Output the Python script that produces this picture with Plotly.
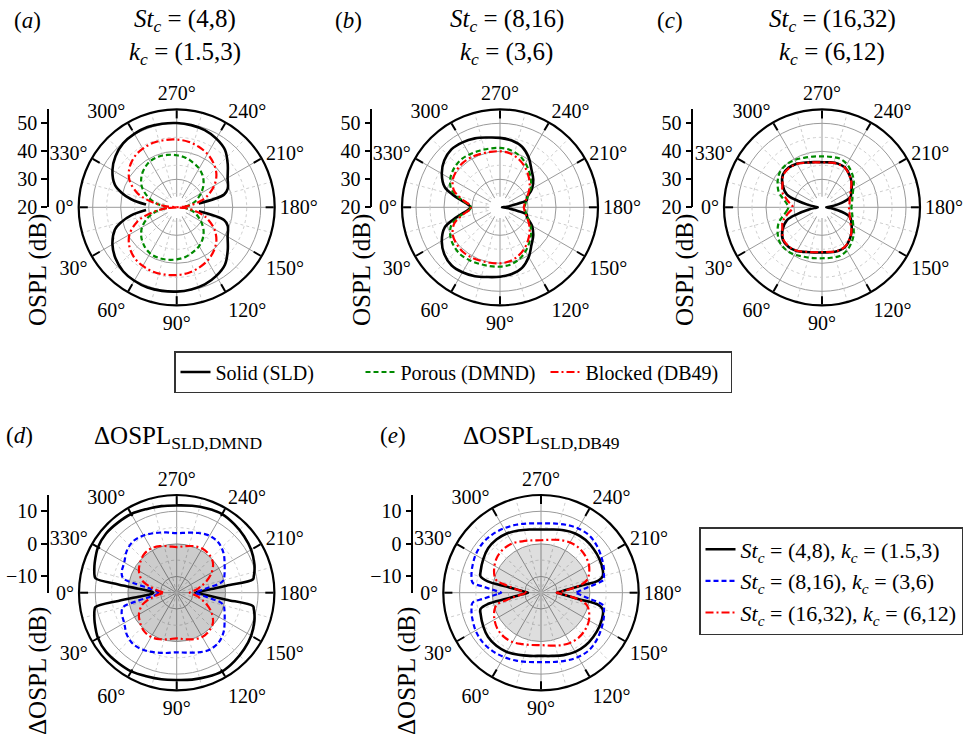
import plotly.graph_objects as go

W, H = 973, 741
FONT = "Liberation Serif"
GRID = "#9a9a9a"
MINOR = "#cdcdcd"

# ---------------- data ----------------
THETA_TOP = [0, 5, 10, 15, 20, 30, 40, 50, 60, 70, 80, 90, 100, 110, 120, 130, 140, 150, 160, 165, 170, 175, 180,
             185, 190, 195, 200, 210, 220, 230, 240, 250, 260, 270, 280, 290, 300, 310, 320, 330, 340, 345, 350, 355, 360]

A_SLD = [None, 31, 36.5, 40.5, 43.5, 46.5, 48.5, 49.8, 50.3, 50.5, 50.3, 50.1, 49.8, 49.3, 48.3, 46.8, 43.8, 41, 39.4, 37.5, 28, None, None,
         None, 28, 37.5, 39.4, 41, 43.8, 46.8, 48.3, 49.3, 49.8, 50.1, 50.3, 50.5, 50.3, 49.8, 48.5, 46.5, 43.5, 40.5, 36.5, 31, None]
A_DMND = [None, 24, 27, 29, 31, 34.3, 36.5, 38, 39, 39.2, 39, 38.6, 38, 37, 36, 34.5, 32.5, 30, 27.5, 26.3, 24.8, 23, None,
          23, 24.8, 26.3, 27.5, 30, 32.5, 34.5, 36, 37, 38, 38.6, 39, 39.2, 39, 38, 36.5, 34.3, 31, 29, 27, 24, None]
A_DB49 = [20, 23.5, 27.5, 31.5, 35, 39.5, 42, 43.5, 44.2, 44.5, 44.4, 44.2, 43.8, 43, 42, 40.5, 38.5, 35.5, 31.5, 29, 26, 23, 20,
          23, 26, 29, 31.5, 35.5, 38.5, 40.5, 42, 43, 43.8, 44.2, 44.4, 44.5, 44.2, 43.5, 42, 39.5, 35, 31.5, 27.5, 23.5, 20]

B_SLD = [30.5, 31.5, 34, 37.5, 41, 44, 46, 47, 46.8, 46.2, 45.3, 44.8, 44.2, 43, 40.5, 37.5, 35.5, 33.2, 30.3, 29.9, 25, 22.5, 20.7,
         22.5, 25, 29.9, 30.3, 33.2, 35.5, 37.5, 40.5, 43, 44.2, 44.8, 45.3, 46.2, 46.8, 47, 46, 44, 41, 37.5, 34, 31.5, 30.5]
B_DMND = [30.5, 31, 33.5, 36, 38.5, 40.5, 41.5, 42, 41.8, 41.5, 41.3, 41.2, 40.8, 39.8, 38.2, 36.3, 34.5, 32.5, 30.5, 29.8, 29.3, 29, 28.8,
          29, 29.3, 29.8, 30.5, 32.5, 34.5, 36.3, 38.2, 39.8, 40.8, 41.2, 41.3, 41.5, 41.8, 42, 41.5, 40.5, 38.5, 36, 33.5, 31, 30.5]
B_DB49 = [30.5, 31, 33, 35.3, 37.5, 39.5, 40.3, 40.7, 40.6, 40.3, 40.1, 40, 39.6, 38.6, 37.2, 35.5, 33.8, 32, 30.2, 29.5, 29, 28.7, 28.5,
          28.7, 29, 29.5, 30.2, 32, 33.8, 35.5, 37.2, 38.6, 39.6, 40, 40.1, 40.3, 40.6, 40.7, 40.3, 39.5, 37.5, 35.3, 33, 31, 30.5]

C_SLD = [21.5, 22.5, 25, 29, 33.3, 36.3, 38.2, 38.5, 38, 37, 36.4, 36.1, 36.3, 36.6, 36.4, 35.2, 33.8, 32.2, 30.8, 28.5, 25.5, 23, 21.5,
         23, 25.5, 28.5, 30.8, 32.2, 33.8, 35.2, 36.4, 36.6, 36.3, 36.1, 36.4, 37, 38, 38.5, 38.2, 36.3, 33.3, 29, 25, 22.5, 21.5]
C_DMND = [32, 32.5, 33.5, 35, 36.5, 38.3, 39.6, 39.9, 39.5, 38.8, 38.4, 38.2, 38.3, 38.5, 37.8, 36.4, 34.8, 32.9, 31.6, 31.2, 30.9, 30.7, 30.5,
          30.7, 30.9, 31.2, 31.6, 32.9, 34.8, 36.4, 37.8, 38.5, 38.3, 38.2, 38.4, 38.8, 39.5, 39.9, 39.6, 38.3, 36.5, 35, 33.5, 32.5, 32]
C_DB49 = [30.4, 31, 32.3, 33.5, 35, 36.3, 38, 38.3, 37.9, 36.9, 36.3, 36, 36.2, 36.5, 36.3, 35.1, 33.7, 31.8, 30.6, 30.2, 30, 29.8, 29.6,
          29.8, 30, 30.2, 30.6, 31.8, 33.7, 35.1, 36.3, 36.5, 36.2, 36, 36.3, 36.9, 37.9, 38.3, 38, 36.3, 35, 33.5, 32.3, 31, 30.4]

THETA_BOT = [0, 2, 4, 6, 8, 10, 12, 15, 20, 30, 40, 50, 60, 70, 80, 90, 100, 110, 120, 130, 140, 150, 160, 165, 168, 170, 172, 174, 176, 178, 180,
             182, 184, 186, 188, 190, 192, 195, 200, 210, 220, 230, 240, 250, 260, 270, 280, 290, 300, 310, 320, 330, 340, 345, 348, 350, 352, 354, 356, 358, 360]

D_LOW = [-7.8, -7.5, -6.3, -3.2, 3.1, 10.3, 10.8, 11.2, 11.8, 12.9, 13.3, 13.1, 12.9, 12.3, 12.0, 11.8, 12.1, 12.5, 12.9, 12.5, 12.0, 11.4, 10.4, 9.7, 9.2, 8.8, 0.4, -4.3, -6.7, -8.3, -9.3,
         -8.3, -6.7, -4.3, 0.4, 8.8, 9.2, 9.7, 10.4, 11.4, 12.0, 12.5, 12.9, 12.5, 12.1, 11.8, 12.0, 12.3, 12.9, 13.1, 13.3, 12.9, 11.8, 11.2, 10.8, 10.3, 3.1, -3.2, -6.3, -7.5, -7.8]
D_MID = [-9.3, -9.2, -9.0, -8.5, -7.5, -5.6, -2.5, 2.0, 3.0, 3.6, 5.0, 5.7, 5.3, 4.5, 3.8, 3.3, 3.7, 4.5, 5.2, 5.0, 3.8, 2.0, 0.6, -0.1, -1.5, -4.2, -5.9, -7.2, -8.2, -8.9, -9.3,
         -8.9, -8.2, -7.2, -5.9, -4.2, -1.5, -0.1, 0.6, 2.0, 3.8, 5.0, 5.2, 4.5, 3.7, 3.3, 3.8, 4.5, 5.3, 5.7, 5.0, 3.6, 3.0, 2.0, -2.5, -5.6, -7.5, -8.5, -9.0, -9.2, -9.3]
D_HIGH = [-11, -10.7, -10, -9.3, -8.6, -7.8, -7.0, -5.5, -3.6, -1.6, -0.4, 0.5, 0.7, 0.2, -0.5, -1.0, -0.5, 0.2, 0.7, 0.4, -0.5, -2.6, -5.5, -7.2, -8, -8.5, -9.2, -9.8, -10.3, -10.8, -11,
          -10.8, -10.3, -9.8, -9.2, -8.5, -8, -7.2, -5.5, -2.6, -0.5, 0.4, 0.7, 0.2, -0.5, -1.0, -0.5, 0.2, 0.7, 0.5, -0.4, -1.6, -3.6, -5.5, -7.0, -7.8, -8.6, -9.3, -10, -10.7, -11]

E_LOW = [-11, -10.5, -9.7, -8.7, -7.0, -4.2, 1.7, 4.2, 4.7, 5.5, 6.2, 6.3, 6.0, 5.3, 4.7, 4.4, 4.7, 5.4, 6.0, 6.2, 6.0, 5.7, 5.2, 4.6, 3.0, -2.6, -5.6, -7.4, -8.6, -9.5, -10.1,
         -9.5, -8.6, -7.4, -5.6, -2.6, 3.0, 4.6, 5.2, 5.7, 6.0, 6.2, 6.0, 5.4, 4.7, 4.4, 4.7, 5.3, 6.0, 6.3, 6.2, 5.5, 4.7, 4.2, 1.7, -4.2, -7.0, -8.7, -9.7, -10.5, -11]
E_MID = [-2.8, -1.5, 0.4, 2.9, 6.1, 6.6, 6.8, 7.1, 7.5, 8.2, 8.5, 8.3, 7.8, 7.2, 6.6, 6.3, 6.6, 7.2, 7.8, 8.0, 7.4, 6.5, 5.6, 5.0, 4.8, 3.3, 0.9, -1.0, -2.4, -3.5, -4.5,
         -3.5, -2.4, -1.0, 0.9, 3.3, 4.8, 5.0, 5.6, 6.5, 7.4, 8.0, 7.8, 7.2, 6.6, 6.3, 6.6, 7.2, 7.8, 8.3, 8.5, 8.2, 7.5, 7.1, 6.8, 6.6, 6.1, 2.9, 0.4, -1.5, -2.8]
E_HIGH = [-10.6, -10.2, -9.5, -8.5, -7.3, -6, -4.3, -1.0, 0.2, 1.5, 2.4, 2.7, 2.5, 1.8, 1.3, 1.1, 1.5, 2.2, 2.8, 3.0, 2.7, 2.0, 0.6, -0.5, -2, -3.5, -5.2, -6.8, -8.2, -9.3, -10.2,
          -9.3, -8.2, -6.8, -5.2, -3.5, -2, -0.5, 0.6, 2.0, 2.7, 3.0, 2.8, 2.2, 1.5, 1.1, 1.3, 1.8, 2.5, 2.7, 2.4, 1.5, 0.2, -1.0, -4.3, -6, -7.3, -8.5, -9.5, -10.2, -10.6]

ANG_TICKS = [0, 30, 60, 90, 120, 150, 180, 210, 240, 270, 300, 330]
ANG_TEXT = ["0°", "30°", "60°", "90°", "120°", "150°", "180°", "210°", "240°", "270°", "300°", "330°"]

TOP_NAMES = ["Solid (SLD)", "Porous (DMND)", "Blocked (DB49)"]
BOT_NAMES = ["<i>St</i><sub><i>c</i></sub> = (4,8), <i>k</i><sub><i>c</i></sub> = (1.5,3)",
             "<i>St</i><sub><i>c</i></sub> = (8,16), <i>k</i><sub><i>c</i></sub> = (3,6)",
             "<i>St</i><sub><i>c</i></sub> = (16,32), <i>k</i><sub><i>c</i></sub> = (6,12)"]

# ---------------- styles ----------------
TOP_STYLE = [dict(color="black", width=2.6, dash="solid"),
             dict(color="#008a00", width=2.2, dash="5px,3px"),
             dict(color="#ff0000", width=2.2, dash="8px,3px,2px,3px")]
BOT_STYLE = [dict(color="black", width=2.6, dash="solid"),
             dict(color="#0000ff", width=2.2, dash="5px,3px"),
             dict(color="#ff0000", width=2.2, dash="8px,3px,2px,3px")]

PANELS = [
    dict(sub="polar", cx=176.7, cy=207.3, R=98.0, rng=[20, 55], major=[30, 40, 50], minor=[25, 35, 45],
         ax_x=49.0, ticks=[20, 30, 40, 50], hole=23.8, disk=None,
         series=[A_SLD, A_DMND, A_DB49], theta=THETA_TOP, style=TOP_STYLE, names=TOP_NAMES, legend="legend"),
    dict(sub="polar2", cx=500.0, cy=207.3, R=98.0, rng=[20, 55], major=[30, 40, 50], minor=[25, 35, 45],
         ax_x=372.3, ticks=[20, 30, 40, 50], hole=23.8, disk=None,
         series=[B_SLD, B_DMND, B_DB49], theta=THETA_TOP, style=TOP_STYLE, names=None, legend=None),
    dict(sub="polar3", cx=822.0, cy=207.3, R=98.0, rng=[20, 55], major=[30, 40, 50], minor=[25, 35, 45],
         ax_x=693.3, ticks=[20, 30, 40, 50], hole=23.8, disk=None,
         series=[C_SLD, C_DMND, C_DB49], theta=THETA_TOP, style=TOP_STYLE, names=None, legend=None),
    dict(sub="polar4", cx=176.7, cy=592.7, R=97.7, rng=[-15, 15], major=[-10, 0, 10], minor=[-5, 5],
         ax_x=49.0, ticks=[-10, 0, 10], hole=None, disk="rgba(0,0,0,0.20)",
         series=[D_LOW, D_MID, D_HIGH], theta=THETA_BOT, style=BOT_STYLE, names=BOT_NAMES, legend="legend2"),
    dict(sub="polar5", cx=541.0, cy=592.7, R=97.7, rng=[-15, 15], major=[-10, 0, 10], minor=[-5, 5],
         ax_x=413.3, ticks=[-10, 0, 10], hole=None, disk="rgba(0,0,0,0.13)",
         series=[E_LOW, E_MID, E_HIGH], theta=THETA_BOT, style=BOT_STYLE, names=None, legend=None),
]

CIRC = list(range(0, 361, 2))
fig = go.Figure()
layout = {}

for k, p in enumerate(PANELS, start=1):
    sub = p["sub"]
    rmin, rmax = p["rng"]
    for rv in p["minor"]:
        fig.add_trace(go.Scatterpolar(r=[rv] * len(CIRC), theta=CIRC, mode="lines", subplot=sub,
                                      line=dict(color=MINOR, width=1, dash="3px,3px"),
                                      showlegend=False, hoverinfo="skip"))
    th, rr = [], []
    for a in range(15, 360, 30):
        th += [a, a, None]
        rr += [rmin, rmax, None]
    fig.add_trace(go.Scatterpolar(r=rr, theta=th, mode="lines", subplot=sub,
                                  line=dict(color=MINOR, width=1, dash="3px,3px"),
                                  showlegend=False, hoverinfo="skip"))
    if p["disk"]:
        fig.add_trace(go.Scatterpolar(r=[0] * len(CIRC), theta=CIRC, mode="lines", subplot=sub,
                                      fill="toself", fillcolor=p["disk"], line=dict(width=0),
                                      showlegend=False, hoverinfo="skip"))
    if p["hole"]:
        fig.add_trace(go.Scatterpolar(r=[p["hole"]] * len(CIRC), theta=CIRC, mode="lines", subplot=sub,
                                      fill="toself", fillcolor="white", line=dict(width=0, color="white"),
                                      showlegend=False, hoverinfo="skip"))
    for i, (vals, st) in enumerate(zip(p["series"], p["style"])):
        show = p["legend"] is not None
        fig.add_trace(go.Scatterpolar(
            r=vals, theta=p["theta"], mode="lines", subplot=sub,
            line=dict(color=st["color"], width=st["width"], dash=st["dash"], shape="spline", smoothing=1.0),
            name=(p["names"][i] if show else None), showlegend=show,
            legend=(p["legend"] if show else None), hoverinfo="skip"))

    cx, cy, R = p["cx"], p["cy"], p["R"]
    layout[sub] = dict(
        domain=dict(x=[(cx - R) / W, (cx + R) / W], y=[(H - cy - R) / H, (H - cy + R) / H]),
        bgcolor="white",
        angularaxis=dict(rotation=180, direction="counterclockwise", tickmode="array",
                         tickvals=ANG_TICKS, ticktext=ANG_TEXT, ticks="inside", ticklen=8,
                         tickwidth=2, tickcolor="black", showline=True, linecolor="black",
                         linewidth=2.2, showgrid=True, gridcolor=GRID, gridwidth=1.3,
                         tickfont=dict(family=FONT, size=20, color="black")),
        radialaxis=dict(range=p["rng"], tickmode="array", tickvals=p["major"], showticklabels=False,
                        ticks="", showline=False, showgrid=True, gridcolor=GRID, gridwidth=1.3),
    )
    xa = "xaxis" if k == 1 else f"xaxis{k}"
    ya = "yaxis" if k == 1 else f"yaxis{k}"
    xr = "x" if k == 1 else f"x{k}"
    yr = "y" if k == 1 else f"y{k}"
    ax = p["ax_x"] / W
    layout[xa] = dict(domain=[ax, ax + 0.002], visible=False, range=[0, 1], anchor=yr)
    layout[ya] = dict(domain=[(H - cy) / H, (H - cy + R) / H], range=p["rng"], anchor=xr, side="left",
                      showline=True, linecolor="black", linewidth=1.5, ticks="outside", ticklen=6,
                      tickwidth=1.5, tickcolor="black", tickmode="array", tickvals=p["ticks"],
                      showgrid=False, zeroline=False, automargin=False,
                      tickfont=dict(family=FONT, size=20, color="black"))
    fig.add_trace(go.Scatter(x=[None], y=[None], xaxis=xr, yaxis=yr, showlegend=False, hoverinfo="skip"))

ann = []
def txt(x, y, s, size=25, xanchor="center", angle=0):
    ann.append(dict(x=x / W, y=1 - y / H, xref="paper", yref="paper", text=s, showarrow=False,
                    xanchor=xanchor, yanchor="middle", textangle=angle,
                    font=dict(family=FONT, size=size, color="black")))

txt(12, 20, "(<i>a</i>)", 23, "left")
txt(333, 20, "(<i>b</i>)", 23, "left")
txt(655, 20, "(<i>c</i>)", 23, "left")
txt(185, 20, "<i>St</i><sub><i>c</i></sub> = (4,8)")
txt(185, 53, "<i>k</i><sub><i>c</i></sub> = (1.5,3)")
txt(507, 20, "<i>St</i><sub><i>c</i></sub> = (8,16)")
txt(507, 53, "<i>k</i><sub><i>c</i></sub> = (3,6)")
txt(832, 20, "<i>St</i><sub><i>c</i></sub> = (16,32)")
txt(832, 53, "<i>k</i><sub><i>c</i></sub> = (6,12)")
txt(4, 435, "(<i>d</i>)", 23, "left")
txt(378, 435, "(<i>e</i>)", 23, "left")
txt(178, 437, "ΔOSPL<sub>SLD,DMND</sub>")
txt(541, 437, "ΔOSPL<sub>SLD,DB49</sub>")
txt(38, 270, "OSPL (dB)", 25, "center", -90)
txt(362, 270, "OSPL (dB)", 25, "center", -90)
txt(685, 270, "OSPL (dB)", 25, "center", -90)
txt(38, 671, "ΔOSPL (dB)", 25, "center", -90)
txt(407, 671, "ΔOSPL (dB)", 25, "center", -90)

fig.update_layout(
    width=W, height=H, margin=dict(l=0, r=0, t=0, b=0, pad=0, autoexpand=False),
    paper_bgcolor="white", plot_bgcolor="rgba(0,0,0,0)",
    font=dict(family=FONT, size=20, color="black"),
    annotations=ann,
    legend=dict(orientation="h", x=174 / W, y=1 - 351 / H, xanchor="left", yanchor="top",
                bordercolor="#333333", borderwidth=1.5, bgcolor="white", entrywidth=140,
                font=dict(family=FONT, size=20, color="black")),
    legend2=dict(orientation="v", x=699 / W, y=1 - 527 / H, xanchor="left", yanchor="top",
                 bordercolor="#333333", borderwidth=1.5, bgcolor="white",
                 font=dict(family=FONT, size=22, color="black")),
    **layout,
)

fig.write_html("out.html", config={"displayModeBar": False},
               post_script="document.body.style.margin='0px';document.body.style.padding='0px';")
